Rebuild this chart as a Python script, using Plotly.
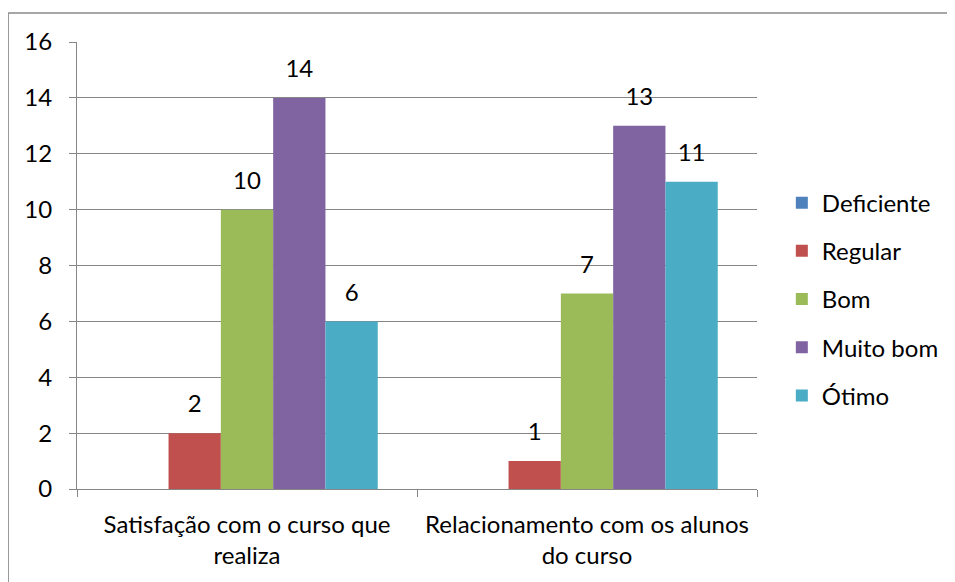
import plotly.graph_objects as go

categories = ["Satisfação com o curso que<br>realiza", "Relacionamento com os alunos<br>do curso"]
series_names = ["Deficiente", "Regular", "Bom", "Muito bom", "Ótimo"]
deficiente = [0, 0]
regular = [2, 1]
bom = [10, 7]
muito_bom = [14, 13]
otimo = [6, 11]
y_ticks = [0, 2, 4, 6, 8, 10, 12, 14, 16]

colors = ["#4F81BD", "#C0504D", "#9BBB59", "#8064A2", "#4BACC6"]
font = dict(family="Lato, Carlito, Calibri, sans-serif", size=24, color="#000000")
gap = 0.2308

fig = go.Figure()
for name, vals, col in zip(series_names, [deficiente, regular, bom, muito_bom, otimo], colors):
    fig.add_trace(go.Bar(
        name=name,
        x=categories,
        y=vals,
        marker_color=col,
        marker_line_width=0,
        legendgroup=name,
        offsetgroup=name,
    ))

# data labels, grouped the same way as the bars so they sit above each one
for name, vals in zip(series_names, [deficiente, regular, bom, muito_bom, otimo]):
    fig.add_trace(go.Scatter(
        x=categories,
        y=vals,
        mode="markers+text",
        text=[str(v) if v else "" for v in vals],
        textposition="top center",
        textfont=font,
        marker=dict(size=22, opacity=0),
        offsetgroup=name,
        showlegend=False,
        hoverinfo="skip",
        cliponaxis=False,
    ))

# chart border: only the left and top edges are inside the picture
border = dict(color="#898989", width=1.5)

fig.update_layout(
    width=947,
    height=574,
    barmode="group",
    bargap=gap,
    bargroupgap=0,
    scattermode="group",
    scattergap=gap,
    plot_bgcolor="white",
    paper_bgcolor="white",
    font=font,
    margin=dict(l=69, r=197, t=34, b=93),
    legend=dict(
        x=1.035, xanchor="left",
        y=0.425, yanchor="middle",
        font=font,
        tracegroupgap=14,
        bgcolor="rgba(0,0,0,0)",
    ),
    xaxis=dict(
        showline=True, linecolor="#868686", linewidth=1,
        ticks="outside", tickson="boundaries", ticklen=7, tickcolor="#868686",
        showgrid=False, tickfont=font, ticklabelstandoff=14,
    ),
    yaxis=dict(
        range=[0, 16], tickvals=y_ticks,
        showline=True, linecolor="#868686", linewidth=1,
        ticks="outside", ticklen=7, tickcolor="#868686",
        showgrid=True, gridcolor="#868686", gridwidth=1,
        zeroline=False, tickfont=font, ticklabelstandoff=12,
    ),
    shapes=[
        dict(type="line", xref="paper", yref="paper",
             x0=-0.1013, y0=-0.3, x1=-0.1013, y1=1.0649, line=border),
        dict(type="line", xref="paper", yref="paper",
             x0=-0.1013, y0=1.0649, x1=1.4, y1=1.0649, line=border),
    ],
)

fig.write_html("out.html")
